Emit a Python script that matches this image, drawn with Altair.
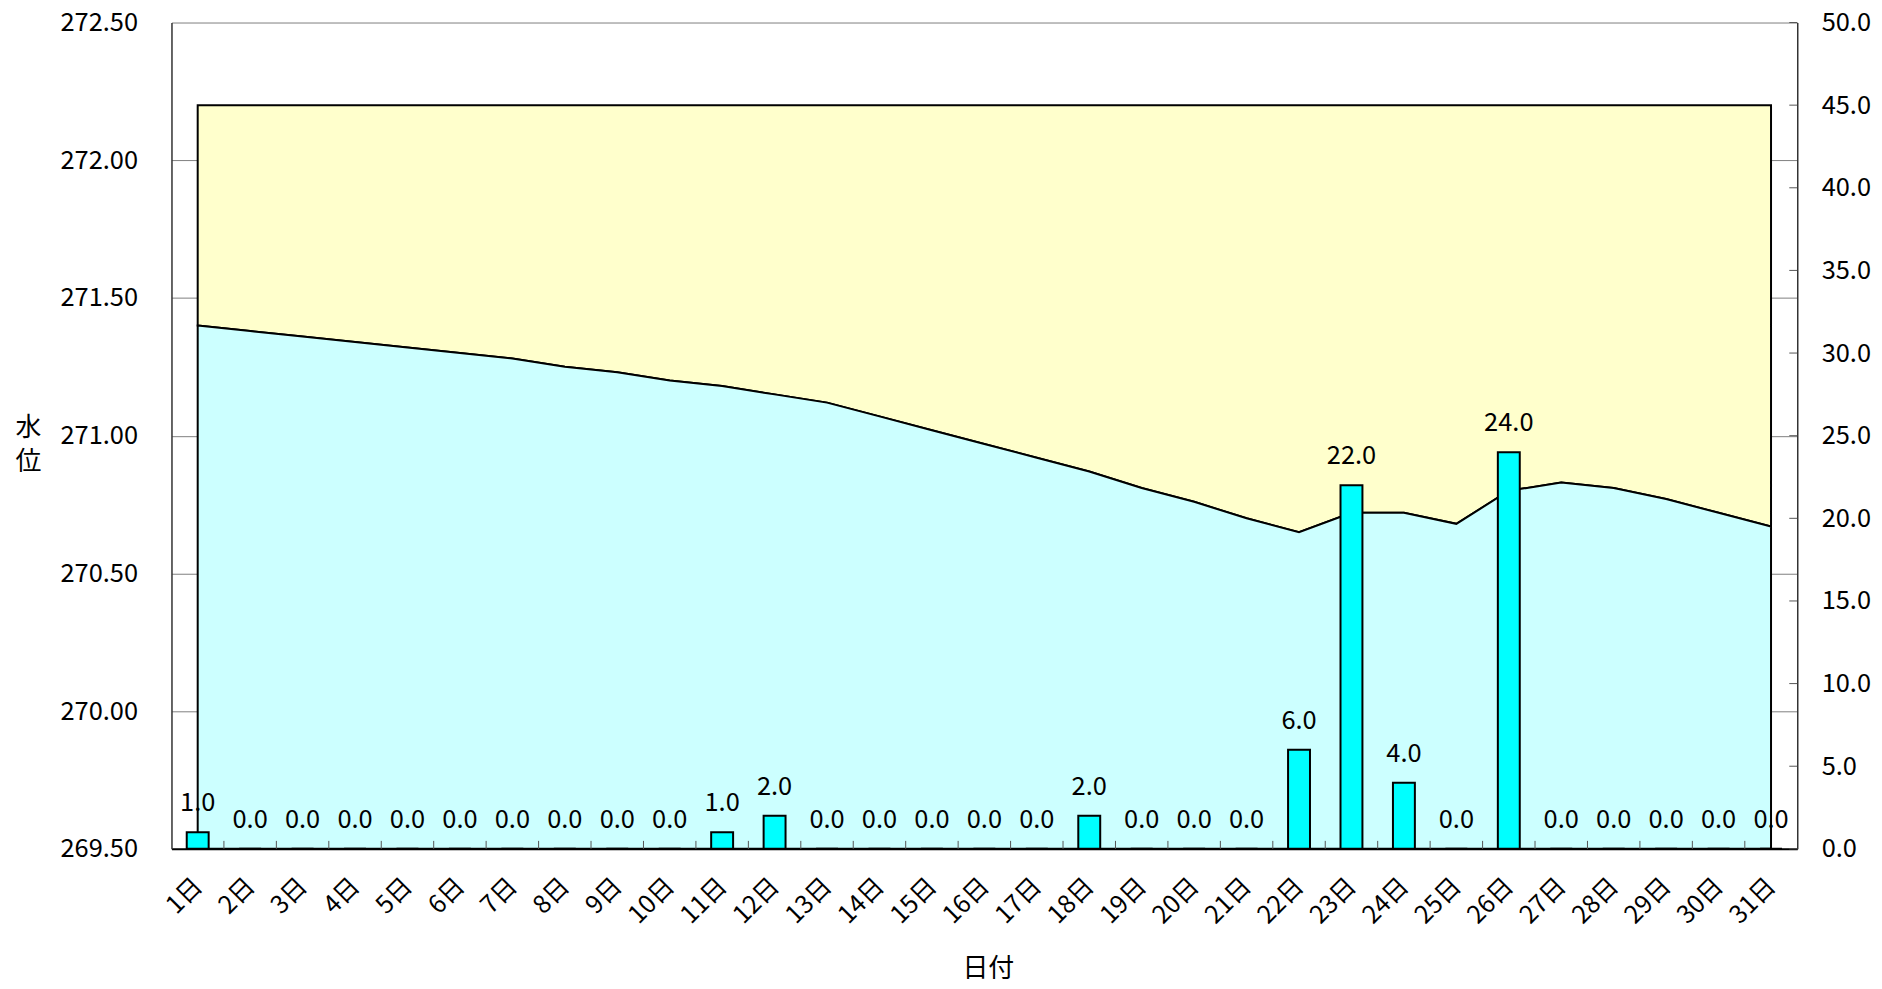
import altair as alt
import pandas as pd

# ---- data ----
days = list(range(1, 32))
water_level = [271.40, 271.38, 271.36, 271.34, 271.32, 271.30, 271.28, 271.25, 271.23, 271.20,
               271.18, 271.15, 271.12, 271.07, 271.02, 270.97, 270.92, 270.87, 270.81, 270.76,
               270.70, 270.65, 270.72, 270.72, 270.68, 270.80, 270.83, 270.81, 270.77, 270.72,
               270.67]
rainfall = [1.0, 0.0, 0.0, 0.0, 0.0, 0.0, 0.0, 0.0, 0.0, 0.0,
            1.0, 2.0, 0.0, 0.0, 0.0, 0.0, 0.0, 2.0, 0.0, 0.0,
            0.0, 6.0, 22.0, 4.0, 0.0, 24.0, 0.0, 0.0, 0.0, 0.0,
            0.0]
full_level = 272.20
level_ticks = [269.50, 270.00, 270.50, 271.00, 271.50, 272.00, 272.50]
rain_ticks = [0.0, 5.0, 10.0, 15.0, 20.0, 25.0, 30.0, 35.0, 40.0, 45.0, 50.0]
day_boundaries = [d + 0.5 for d in days[:-1]]

FONT = "Noto Sans CJK JP"
LABEL_SIZE = 25.5
TITLE_SIZE = 26
W, H = 1631, 829

df = pd.DataFrame({"day": days, "level": water_level, "rain": rainfall})
df_b = pd.DataFrame({"day": day_boundaries})
df_rt = pd.DataFrame({"rain": rain_ticks})

x_axis = alt.Axis(
    values=days, labelExpr="datum.value + '日'", labelAngle=-45,
    labelAlign="right", labelBaseline="middle", labelPadding=33,
    labelFontSize=25, labelFont=FONT, labelColor="black",
    labelOverlap=False, labelFlush=False,
    ticks=False, grid=False, domainColor="black", domainWidth=2,
    title="日付", titleFont=FONT, titleFontSize=TITLE_SIZE, titleFontWeight="normal",
    titleColor="black", titleX=819, titleY=120, titleBaseline="middle",
    titleAlign="center", titleAngle=0,
)
x_enc = alt.X("day:Q",
              scale=alt.Scale(domain=[0.5, 31.5], nice=False, zero=False, padding=0),
              axis=x_axis)

level_scale = alt.Scale(domain=[269.5, 272.5], nice=False, zero=False)
level_axis = alt.Axis(
    orient="left", values=level_ticks, format=".2f", ticks=False,
    grid=True, gridColor="#808080", gridWidth=1,
    domainColor="#333333", domainWidth=1.5,
    labelPadding=34, labelFontSize=LABEL_SIZE, labelFont=FONT, labelColor="black",
    labelFlush=False, labelOverlap=False,
    title=["水", "位"], titleAngle=0, titleX=-144, titleY=406,
    titleAlign="center", titleBaseline="middle", titleLineHeight=34,
    titleFont=FONT, titleFontSize=TITLE_SIZE, titleFontWeight="normal", titleColor="black",
)

rain_scale = alt.Scale(domain=[0, 50], nice=False)
rain_axis = alt.Axis(
    orient="right", values=rain_ticks, format=".1f", ticks=False, grid=False,
    domainColor="#333333", domainWidth=1.5,
    labelPadding=24, labelFontSize=LABEL_SIZE, labelFont=FONT, labelColor="black",
    labelAlign="left", labelFlush=False, labelOverlap=False, title=None,
)

yellow = alt.Chart(df).mark_area(
    color="#FFFFCC", stroke="black", strokeWidth=2, interpolate="linear"
).encode(
    x=x_enc,
    y=alt.Y("level:Q", scale=level_scale, axis=level_axis),
    y2=alt.Y2(datum=full_level),
)
cyan = alt.Chart(df).mark_area(
    color="#CCFFFF", stroke="black", strokeWidth=2, interpolate="linear"
).encode(
    x=x_enc,
    y=alt.Y("level:Q", scale=level_scale, axis=level_axis),
    y2=alt.Y2(datum=269.5),
)
x_ticks = alt.Chart(df_b).mark_rule(color="#555555", strokeWidth=1).encode(
    x=x_enc, y=alt.value(H), y2=alt.value(H - 8)
)
level_layer = alt.layer(yellow, cyan, x_ticks)

bars = alt.Chart(df).mark_bar(
    orient="vertical", size=22, color="#00FFFF", stroke="black", strokeWidth=2
).encode(
    x=x_enc,
    y=alt.Y("rain:Q", scale=rain_scale, axis=rain_axis),
)
labels = alt.Chart(df).mark_text(
    baseline="alphabetic", dy=-21, fontSize=LABEL_SIZE, font=FONT, color="black"
).encode(
    x=x_enc,
    y=alt.Y("rain:Q", scale=rain_scale, axis=rain_axis),
    text=alt.Text("rain:Q", format=".1f"),
)
right_ticks = alt.Chart(df_rt).mark_rule(color="#555555", strokeWidth=1).encode(
    y=alt.Y("rain:Q", scale=rain_scale, axis=rain_axis),
    x=alt.value(W - 8), x2=alt.value(W),
)
rain_layer = alt.layer(bars, labels, right_ticks)

chart = alt.layer(level_layer, rain_layer).resolve_scale(y="independent").properties(
    width=W, height=H,
    autosize=alt.AutoSizeParams(type="none"),
    padding={"left": 164, "top": 13, "right": 77, "bottom": 131},
    background="white",
).configure_view(stroke=None)

chart.save("out.html", embed_options={"renderer": "svg", "actions": False})
